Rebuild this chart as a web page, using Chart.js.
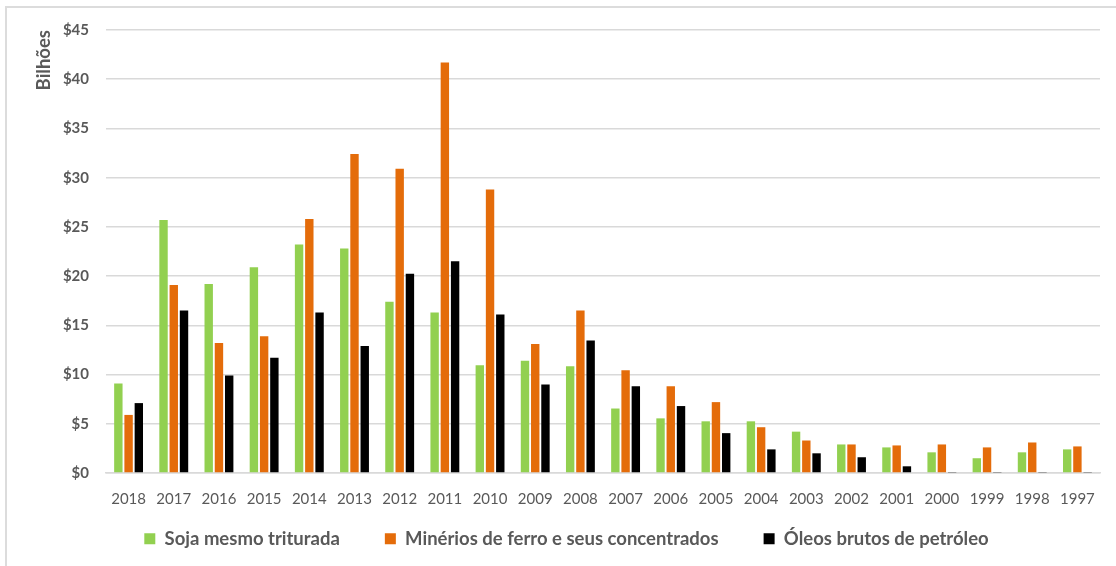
<!DOCTYPE html>
<html>
<head>
<meta charset="utf-8">
<script src="https://cdn.jsdelivr.net/npm/chart.js@4/dist/chart.umd.min.js"></script>
<style>
  html, body { margin: 0; padding: 0; background: #fff; }
  #wrap { position: relative; width: 1116px; height: 566px; overflow: hidden; }
  #frame { position: absolute; left: 5px; top: 6px; right: -10px; bottom: -10px;
           border-top: 2px solid #dcdcdc; border-left: 2px solid #dcdcdc; }
  #chart { position: absolute; left: 0; top: 0; }
</style>
</head>
<body>
<div id="wrap">
  <div id="frame"></div>
  <canvas id="chart" width="1116" height="566"></canvas>
</div>
<script>
// Exportações por ano (US$ bilhões)
const years = ['2018', '2017', '2016', '2015', '2014', '2013', '2012', '2011', '2010', '2009', '2008',
               '2007', '2006', '2005', '2004', '2003', '2002', '2001', '2000', '1999', '1998', '1997'];
const soja = [9.1, 25.7, 19.2, 20.9, 23.2, 22.8, 17.4, 16.3, 10.95, 11.4, 10.85,
              6.55, 5.55, 5.25, 5.25, 4.2, 2.9, 2.6, 2.1, 1.5, 2.1, 2.4];
const minerio = [5.9, 19.1, 13.2, 13.9, 25.8, 32.4, 30.9, 41.7, 28.8, 13.1, 16.5,
                 10.45, 8.8, 7.2, 4.65, 3.3, 2.9, 2.8, 2.9, 2.6, 3.1, 2.7];
const oleo = [7.1, 16.5, 9.9, 11.7, 16.3, 12.9, 20.25, 21.5, 16.1, 9.0, 13.45,
              8.8, 6.8, 4.05, 2.4, 2.0, 1.6, 0.68, 0.05, 0.05, 0.05, 0.05];
const seriesNames = ['Soja mesmo triturada', 'Minérios de ferro e seus concentrados', 'Óleos brutos de petróleo'];
const yTicks = [0, 5, 10, 15, 20, 25, 30, 35, 40, 45];

const textColor = '#595959';
const fontFamily = 'Lato, "Open Sans", sans-serif';

// The legend keeps wide gaps between items but sits close under the year labels.
const legendOffset = {
  id: 'legendOffset',
  afterLayout(chart) {
    const lg = chart.legend;
    if (!lg) return;
    lg.top = chart.chartArea.bottom + 11.5;
    lg.bottom = chart.height;
  }
};

new Chart(document.getElementById('chart'), {
  type: 'bar',
  data: {
    labels: years,
    datasets: [
      { label: seriesNames[0], data: soja, backgroundColor: '#92D050' },
      { label: seriesNames[1], data: minerio, backgroundColor: '#E46C0A' },
      { label: seriesNames[2], data: oleo, backgroundColor: '#000000' }
    ]
  },
  plugins: [legendOffset],
  options: {
    responsive: false,
    animation: false,
    devicePixelRatio: 1,
    layout: { padding: { left: 33, right: 16, top: 30, bottom: 26 } },
    datasets: { bar: { categoryPercentage: 0.68, barPercentage: 0.82 } },
    plugins: {
      tooltip: { enabled: false },
      legend: {
        position: 'bottom',
        maxHeight: 30,
        labels: {
          boxWidth: 11, boxHeight: 11, padding: 45,
          color: textColor,
          font: { family: fontFamily, size: 18.5, weight: 'bold' }
        }
      }
    },
    scales: {
      x: {
        grid: { display: false },
        border: { display: true, color: '#d9d9d9', width: 1.5 },
        ticks: { color: textColor, padding: 9, maxRotation: 0, autoSkip: false,
                 font: { family: fontFamily, size: 15 } },
        afterFit: (s) => { s.height = 37; }
      },
      y: {
        min: 0, max: 45,
        afterBuildTicks: (s) => { s.ticks = yTicks.map(v => ({ value: v })); },
        grid: { color: '#d9d9d9', lineWidth: 1.5, drawTicks: false },
        border: { display: false },
        ticks: { color: textColor, padding: 17,
                 font: { family: fontFamily, size: 15, weight: 'bold' },
                 callback: (v) => '$' + v },
        title: { display: true, text: 'Bilhões', align: 'end', color: textColor,
                 padding: { top: 0, bottom: 0 },
                 font: { family: fontFamily, size: 18.5, weight: 'bold' } },
        afterFit: (s) => { s.width = 73; }
      }
    }
  }
});
</script>
</body>
</html>
